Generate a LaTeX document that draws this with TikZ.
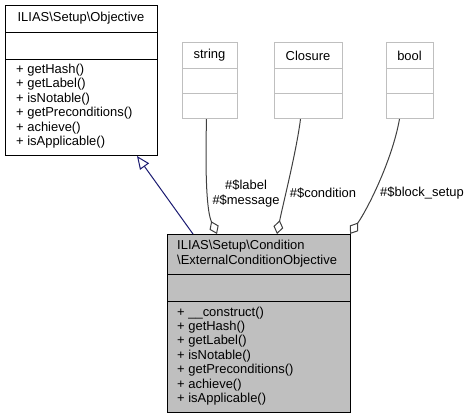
\documentclass[tikz,border=0pt]{standalone}
\usepackage{fontspec}
\setmainfont{Liberation Sans}
\usetikzlibrary{arrows.meta,calc}
\definecolor{edgegray}{HTML}{404040}
\definecolor{inhblue}{HTML}{191970}
\definecolor{boxgray}{HTML}{BFBFBF}
\begin{document}
\begin{tikzpicture}[x=1bp,y=-1bp,classbox/.style={shape=rectangle,draw=black,line width=1bp,inner sep=0pt,anchor=north west},typebox/.style={shape=rectangle,draw=boxgray,line width=1bp,inner sep=0pt,anchor=north west},txt/.style={inner sep=0pt,font=\fontsize{13}{14.5}\selectfont},member/.style={edgegray,line width=1bp,-{Diamond[open,length=14bp,width=10bp]}},inherits/.style={inhblue,line width=1bp,-{Triangle[open,length=13bp,width=11bp]}}]
\useasboundingbox (0,0) rectangle (471,419);
% base class
\node[classbox,minimum width=152bp,minimum height=150bp] (objective) at (5,5) {};
\node[txt] (objectiveName) at (81,18.5) {ILIAS\textbackslash Setup\textbackslash Objective};
\draw ($(objective.north west)+(0,27)$) -- ($(objective.north east)+(0,27)$);
\draw ($(objective.north west)+(0,54)$) -- ($(objective.north east)+(0,54)$);
\node[txt,align=left,anchor=west] (objectiveOps) at (16,106) {+ getHash()\\+ getLabel()\\+ isNotable()\\+ getPreconditions()\\+ achieve()\\+ isApplicable()};
% member types
\node[typebox,minimum width=55bp,minimum height=76bp] (string) at (182,42) {};
\node[txt] (stringName) at (209.5,55.5) {string};
\draw[boxgray] ($(string.north west)+(0,26)$) -- ($(string.north east)+(0,26)$);
\draw[boxgray] ($(string.north west)+(0,51)$) -- ($(string.north east)+(0,51)$);
\node[typebox,minimum width=68bp,minimum height=76bp] (closure) at (274,42) {};
\node[txt] (closureName) at (308,55.5) {Closure};
\draw[boxgray] ($(closure.north west)+(0,26)$) -- ($(closure.north east)+(0,26)$);
\draw[boxgray] ($(closure.north west)+(0,51)$) -- ($(closure.north east)+(0,51)$);
\node[typebox,minimum width=47bp,minimum height=76bp] (bool) at (386,42) {};
\node[txt] (boolName) at (409.5,55.5) {bool};
\draw[boxgray] ($(bool.north west)+(0,26)$) -- ($(bool.north east)+(0,26)$);
\draw[boxgray] ($(bool.north west)+(0,51)$) -- ($(bool.north east)+(0,51)$);
% derived class
\node[classbox,fill=boxgray,minimum width=183bp,minimum height=178bp] (external) at (167,234) {};
\node[txt,align=left,anchor=west] (externalName) at (177,253.5) {ILIAS\textbackslash Setup\textbackslash Condition\\\textbackslash ExternalConditionObjective};
\draw ($(external.north west)+(0,40)$) -- ($(external.north east)+(0,40)$);
\draw ($(external.north west)+(0,67)$) -- ($(external.north east)+(0,67)$);
\node[txt,align=left,anchor=west] (externalOps) at (177,356) {+ \_\_construct()\\+ getHash()\\+ getLabel()\\+ isNotable()\\+ getPreconditions()\\+ achieve()\\+ isApplicable()};
% edges
\draw[inherits] ($(external.north west)+(26,0)$) -- ($(objective.south west)+(132,0)$);
\draw[member] ($(string.south)+(-3.5,0)$) .. controls ($(string.south)+(-5,60)$) and ($(external.north west)+(40,-22)$) .. ($(external.north west)+(50,0)$);
\draw[member] ($(closure.south)+(-8,0)$) .. controls ($(closure.south)+(-12,32)$) and ($(external.north west)+(116,-30)$) .. ($(external.north west)+(110,0)$);
\draw[member] ($(bool.south)+(-10.5,0)$) .. controls ($(bool.south)+(-18,42)$) and ($(external.north east)+(16,-24)$) .. ($(external.north east)+(-1,0)$);
\node[txt,align=center] (labelMessage) at (246,193.5) {\#\$label\\\#\$message};
\node[txt] (conditionLabel) at (323,193.5) {\#\$condition};
\node[txt] (blockSetupLabel) at (422,193.5) {\#\$block\_setup};
\end{tikzpicture}
\end{document}
